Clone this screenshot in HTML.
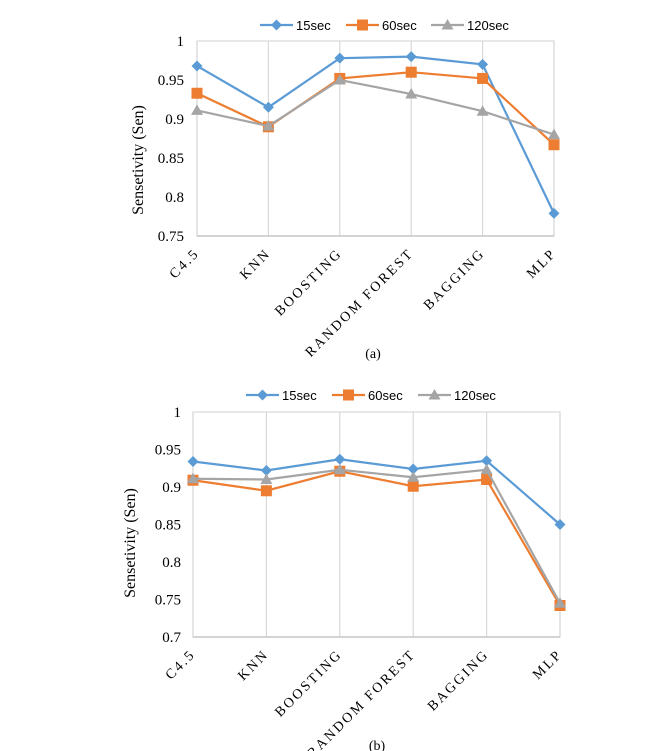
<!DOCTYPE html>
<html><head><meta charset="utf-8"><style>
body{margin:0;background:#fff;width:650px;height:751px;overflow:hidden}
svg{display:block}
text{font-family:"Liberation Serif",serif;fill:#000}
.leg{font-family:"Liberation Sans",sans-serif;font-size:13px}
</style></head><body>
<svg id="chart" width="650" height="751"></svg>
<script>
const categories=["C4.5","KNN","BOOSTING","RANDOM FOREST","BAGGING","MLP"];
const seriesNames=["15sec","60sec","120sec"];
const colors=["#5b9bd5","#ed7d31","#a5a5a5"];
const a15=[0.968,0.915,0.978,0.980,0.970,0.779];
const a60=[0.933,0.890,0.952,0.960,0.952,0.867];
const a120=[0.911,0.891,0.950,0.932,0.910,0.880];
const b15=[0.934,0.922,0.937,0.924,0.935,0.850];
const b60=[0.909,0.895,0.921,0.901,0.910,0.742];
const b120=[0.911,0.910,0.923,0.913,0.923,0.745];
const aTicks=["0.75","0.8","0.85","0.9","0.95","1"];
const bTicks=["0.7","0.75","0.8","0.85","0.9","0.95","1"];
const NS="http://www.w3.org/2000/svg";
const svg=document.getElementById('chart');
function mk(tag,attrs,parent){const e=document.createElementNS(NS,tag);for(const k in attrs)e.setAttribute(k,attrs[k]);(parent||svg).appendChild(e);return e;}
function marker(g,shape,x,y,c){
  if(shape===0)return mk('polygon',{points:`${x},${y-5.5} ${x+5.5},${y} ${x},${y+5.5} ${x-5.5},${y}`,fill:c},g);
  if(shape===1)return mk('rect',{x:x-5.5,y:y-5.5,width:11,height:11,fill:c},g);
  return mk('polygon',{points:`${x},${y-6} ${x+6},${y+4.5} ${x-6},${y+4.5}`,fill:c},g);
}
function drawChart(cfg){
  const g=mk('g',{});
  
  
  const ymin=parseFloat(cfg.ticks[0]),ymax=parseFloat(cfg.ticks[cfg.ticks.length-1]);
  const X=i=>cfg.x0+(cfg.x1-cfg.x0)*i/(categories.length-1);
  const Y=v=>cfg.yb-(cfg.yb-cfg.yt)*(v-ymin)/(ymax-ymin);
  const border=mk('rect',{x:cfg.x0,y:cfg.yt,width:cfg.x1-cfg.x0,height:cfg.yb-cfg.yt,fill:'none',stroke:'#d9d9d9','stroke-width':1.2},g);
  
  
  categories.forEach((c,i)=>{
    const gl=mk('line',{x1:X(i),x2:X(i),y1:cfg.yt,y2:cfg.yb,stroke:'#d9d9d9','stroke-width':1.2},g);
    
    
    const t=mk('text',{x:X(i)+3,y:cfg.yb+18,'text-anchor':'end','font-size':14,'letter-spacing':'2.2',transform:`rotate(-45 ${X(i)+3} ${cfg.yb+18})`},g);
    t.textContent=c;
    
    
  });
  mk('line',{x1:cfg.x0,x2:cfg.x1,y1:cfg.yb,y2:cfg.yb,stroke:'#bfbfbf','stroke-width':1.2},g);
  cfg.ticks.forEach(tk=>{
    const t=mk('text',{x:cfg.tx,y:Y(parseFloat(tk))+5,'text-anchor':'end','font-size':15},g);
    t.textContent=tk;
    
    
  });
  const yt=mk('text',{x:cfg.titleX,y:cfg.titleY,'text-anchor':'middle','font-size':16,transform:`rotate(-90 ${cfg.titleX} ${cfg.titleY})`},g);
  yt.textContent='Sensetivity (Sen)';
  
  
  cfg.series.forEach((vals,s)=>{
    const pts=vals.map((v,i)=>X(i)+','+Y(v)).join(' ');
    const pl=mk('polyline',{points:pts,fill:'none',stroke:colors[s],'stroke-width':2.2},g);
    
    
    vals.forEach((v,i)=>{
      const m=marker(g,s,X(i),Y(v),colors[s]);
      
      
    });
  });
  cfg.legend.forEach((lx,s)=>{
    const ly=cfg.legY;
    const l=mk('line',{x1:lx,x2:lx+33,y1:ly,y2:ly,stroke:colors[s],'stroke-width':2.2},g);
    
    
    marker(g,s,lx+16.5,ly,colors[s]);
    const t=mk('text',{x:lx+36,y:ly+5,'class':'leg'},g);
    t.textContent=seriesNames[s];
    
    
  });
  const cap=mk('text',{x:cfg.capX,y:cfg.capY,'text-anchor':'middle','font-size':14},g);
  cap.textContent=cfg.cap;
  
  
}
drawChart({name:'chart-a',x0:197,x1:554,yt:41,yb:236,ticks:aTicks,tx:184,titleX:143,titleY:160,series:[a15,a60,a120],legend:[260,346,431],legY:25,cap:'(a)',capX:373,capY:358});
drawChart({name:'chart-b',x0:193,x1:560,yt:412,yb:637,ticks:bTicks,tx:181,titleX:135,titleY:543,series:[b15,b60,b120],legend:[246,332,418],legY:395,cap:'(b)',capX:377,capY:750});
</script>
</body></html>
